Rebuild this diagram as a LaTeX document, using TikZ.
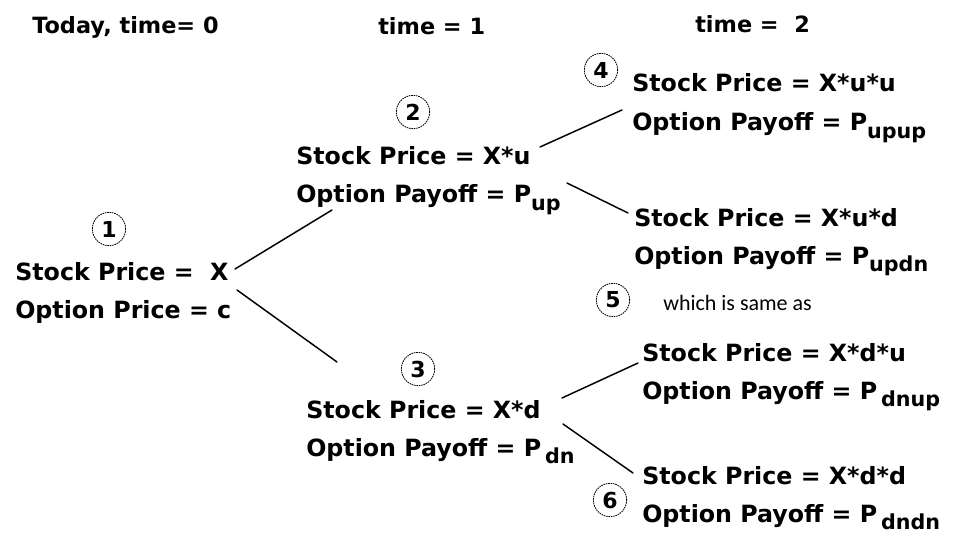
\documentclass[tikz,border=0pt]{standalone}
\usepackage{fontspec}
\setmainfont{DejaVu Sans}
\newfontfamily\notefont{Carlito}
\usetikzlibrary{positioning}
\tikzset{
  lbl/.style={anchor=base west, inner sep=0pt, font=\fontsize{17.8}{20}\selectfont\bfseries},
  head/.style={anchor=base west, inner sep=0pt, font=\fontsize{16.8}{20}\selectfont\bfseries},
  num/.style={circle, draw, line width=0.6pt, dash pattern=on 1.2pt off 0.6pt,
              inner sep=0pt, minimum size=25pt, font=\fontsize{16.5}{16.5}\selectfont\bfseries},
  branch/.style={line width=1.1pt, line cap=round},
  note/.style={anchor=base west, inner sep=0pt, font=\notefont\fontsize{16.5}{20}\selectfont},
}
% lowered subscript for the payoff names
\newcommand{\lowsub}[1]{\raisebox{-0.33em}{\fontsize{15.5}{15.5}\selectfont #1}}

\begin{document}
\begin{tikzpicture}[x=0.75pt, y=-0.75pt]
\useasboundingbox (0,0) rectangle (958,535);
% ---- time headings ----
\node[head] (t0) at (32,34)  {Today, time= 0};
\node[head] (t1) at (378,35) {time = 1};
\node[head] (t2) at (695,33) {time =\ \ 2};
% ---- states ----
\node[num] (c1) at (109,229) {1};
\node[lbl] (s1) at (15,280)  {Stock Price =\ \ X};
\node[lbl] (o1) at (15,318)  {Option Price = c};
\node[num] (c2) at (413,112) {2};
\node[lbl] (s2) at (296,165) {Stock Price = X*u};
\node[lbl] (o2) at (296,203) {Option Payoff = P\lowsub{up}};
\node[num] (c3) at (418,369) {3};
\node[lbl] (s3) at (306,418) {Stock Price = X*d};
\node[lbl] (o3) at (306,456) {Option Payoff = P\,\lowsub{dn}};
\node[num] (c4) at (601,70)  {4};
\node[lbl] (s4) at (632,92)  {Stock Price = X*u*u};
\node[lbl] (o4) at (632,131) {Option Payoff = P\lowsub{upup}};
\node[lbl] (s5) at (634,226) {Stock Price = X*u*d};
\node[lbl] (o5) at (634,264) {Option Payoff = P\lowsub{updn}};
\node[num] (c5) at (613,300) {5};
\node[note] (same) at (663,310) {which is same as};
\node[lbl] (s5b) at (642,361) {Stock Price = X*d*u};
\node[lbl] (o5b) at (642,399) {Option Payoff = P\,\lowsub{dnup}};
\node[lbl] (s6) at (642,484) {Stock Price = X*d*d};
\node[num] (c6) at (610,500) {6};
\node[lbl] (o6) at (642,522) {Option Payoff = P\,\lowsub{dndn}};
% ---- branch ends ----
\coordinate (r1u) at (235,269); \coordinate (l2) at (332,210);
\coordinate (r1d) at (237,290); \coordinate (l3) at (337,362);
\coordinate (r2u) at (540,147); \coordinate (l4) at (622,110);
\coordinate (r2d) at (567,183); \coordinate (l5) at (628,213);
\coordinate (r3u) at (562,398); \coordinate (l5b) at (638,363);
\coordinate (r3d) at (563,424); \coordinate (l6) at (633,473);
% ---- branches ----
\draw[branch] (r1u) -- (l2);
\draw[branch] (r1d) -- (l3);
\draw[branch] (r2u) -- (l4);
\draw[branch] (r2d) -- (l5);
\draw[branch] (r3u) -- (l5b);
\draw[branch] (r3d) -- (l6);
\end{tikzpicture}
\end{document}
